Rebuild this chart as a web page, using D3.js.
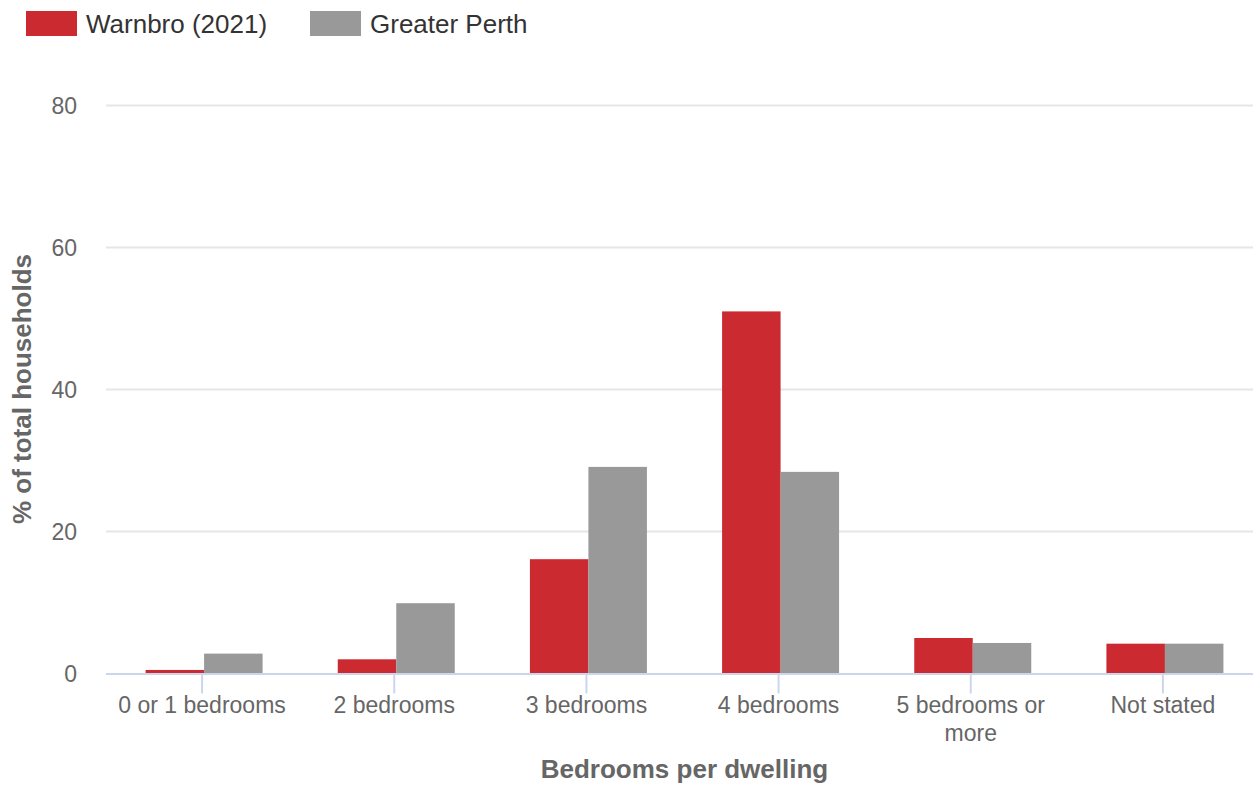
<!DOCTYPE html>
<html><head><meta charset="utf-8">
<script src="https://cdn.jsdelivr.net/npm/d3@7"></script>
<style>
html,body{margin:0;padding:0;background:#fff;overflow:hidden}
svg{display:block;font-family:"Liberation Sans",Arial,sans-serif}
</style></head>
<body>
<svg id="chart" width="1253" height="785"></svg>
<script>
const categories = ["0 or 1 bedrooms","2 bedrooms","3 bedrooms","4 bedrooms","5 bedrooms or more","Not stated"];
const seriesNames = ["Warnbro (2021)","Greater Perth"];
const warnbro = [0.5, 2.0, 16.1, 51.0, 5.0, 4.2];
const greaterPerth = [2.8, 9.9, 29.1, 28.4, 4.3, 4.2];
const yTicks = [0, 20, 40, 60, 80];
const colors = ["#cb2b30", "#999999"];

(function(){
const svg = d3.select("#chart");
const pLeft = 106, pRight = 1259, pTop = 105.5, pBottom = 673.5;

const x = d3.scaleBand().domain(categories).range([pLeft, pRight]).paddingInner(0).paddingOuter(0);
const y = d3.scaleLinear().domain([0, 80]).range([pBottom, pTop]);
const barW = 58.5;
const xs = d3.scaleBand().domain(seriesNames).range([0, barW * 2]);

// gridlines
svg.append("g").selectAll("line").data(yTicks.filter(d => d > 0)).join("line")
  .attr("x1", pLeft).attr("x2", 1253)
  .attr("y1", d => y(d)).attr("y2", d => y(d))
  .attr("stroke", "#e6e6e6").attr("stroke-width", 2);

// y labels
svg.append("g").selectAll("text").data(yTicks).join("text")
  .attr("x", 77).attr("y", d => y(d)).attr("dy", "0.35em")
  .attr("text-anchor", "end").attr("fill", "#666").attr("font-size", 23)
  .text(d => d);

// bars
const data = [warnbro, greaterPerth];
data.forEach((vals, si) => {
  svg.append("g").selectAll("rect").data(categories).join("rect")
    .attr("x", (c) => x(c) + x.bandwidth() / 2 - barW + 2 + xs(seriesNames[si]))
    .attr("y", (c, i) => y(vals[i]))
    .attr("width", barW)
    .attr("height", (c, i) => y(0) - y(vals[i]))
    .attr("fill", colors[si]);
});

// x axis line
svg.append("line").attr("x1", pLeft).attr("x2", 1253).attr("y1", pBottom + 0.5).attr("y2", pBottom + 0.5)
  .attr("stroke", "#ccd6eb").attr("stroke-width", 2);
// ticks
svg.append("g").selectAll("line").data(categories).join("line")
  .attr("x1", c => x(c) + x.bandwidth() / 2).attr("x2", c => x(c) + x.bandwidth() / 2)
  .attr("y1", pBottom).attr("y2", pBottom + 20)
  .attr("stroke", "#ccd6eb").attr("stroke-width", 2);

// x labels (wrapped)
const wrap = { "5 bedrooms or more": ["5 bedrooms or", "more"] };
const xl = svg.append("g").selectAll("text").data(categories).join("text")
  .attr("x", c => x(c) + x.bandwidth() / 2).attr("y", 713)
  .attr("text-anchor", "middle").attr("fill", "#666").attr("font-size", 23);
xl.each(function(c) {
  const lines = wrap[c] || [c];
  const t = d3.select(this);
  lines.forEach((l, i) => {
    t.append("tspan").attr("x", x(c) + x.bandwidth() / 2).attr("dy", i === 0 ? 0 : 28).text(l);
  });
});

// axis titles
svg.append("text").attr("x", 684.5).attr("y", 778)
  .attr("text-anchor", "middle").attr("fill", "#666").attr("font-size", 26).attr("font-weight", "bold")
  .text("Bedrooms per dwelling");
svg.append("text").attr("transform", `translate(31,389) rotate(-90)`)
  .attr("text-anchor", "middle").attr("fill", "#666").attr("font-size", 26).attr("font-weight", "bold")
  .text("% of total households");

// legend
const lg = svg.append("g");
const legendX = [26, 310];
seriesNames.forEach((n, i) => {
  lg.append("rect").attr("x", legendX[i]).attr("y", 11).attr("width", 51).attr("height", 25).attr("fill", colors[i]);
  lg.append("text").attr("x", legendX[i] + 60).attr("y", 33).attr("fill", "#333").attr("font-size", 26).text(n);
});
})();
</script>
</body></html>
